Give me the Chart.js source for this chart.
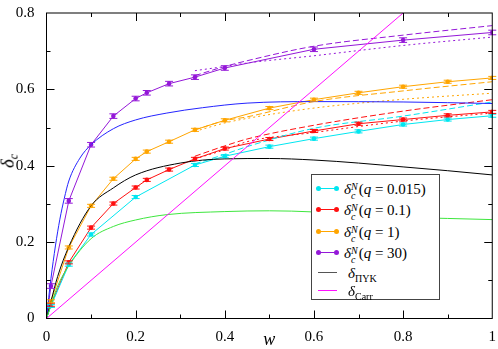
<!DOCTYPE html>
<html lang="en">

<head>
    <meta charset="UTF-8">
    <title>delta_c vs w</title>
    <style>
        body { margin: 0; background: #fff; }
        #wrap { position: relative; width: 498px; height: 349px; }
        #ytitle { position: absolute; left: 9px; top: 161px; transform: translate(-50%, -50%) rotate(-90deg);
            font-family: 'Liberation Serif', serif; font-size: 19px; font-style: italic; white-space: nowrap; }
        #ytitle sub { font-size: 12px; vertical-align: -4px; }
        #legend { position: absolute; left: 311px; top: 174px; width: 129px; height: 126px; box-sizing: border-box;
            border: 1px solid #444; background: #fff; font-family: 'Liberation Serif', serif; font-size: 15px; }
        .row { position: absolute; left: 0; height: 20px; width: 100%; }
        .sample { position: absolute; left: 6px; top: 9px; width: 19px; height: 0; border-top: 1px solid; }
        .dot { position: absolute; top: -3px; width: 5px; height: 5px; border-radius: 50%; }
        .txt { position: absolute; left: 32px; top: 0; white-space: nowrap; line-height: 20px; }
        .ss { display: inline-block; vertical-align: -5px; line-height: 9px; font-size: 10px; font-style: italic; margin-right: 1px; }
        .ss span { display: block; }
        .small { font-size: 10px; vertical-align: -4px; }
    </style>
</head>

<body>
    <div id="wrap">
        <canvas id="myChart" width="498" height="349"></canvas>
        <div id="ytitle">δ<sub>c</sub></div>
        <div id="legend"></div>
    </div>

    <script src="https://cdn.jsdelivr.net/npm/chart.js"></script>
    <script>
        // simulation points, q = 0.015
        let w_cyan = [0, 0.01, 0.05, 0.1, 0.2, 0.333, 0.4, 0.5, 0.6, 0.7, 0.8, 0.9, 1];
        let d_cyan = [0, 0.033, 0.141, 0.220, 0.318, 0.402, 0.425, 0.450, 0.471, 0.490, 0.508, 0.521, 0.531];
        // q = 0.1
        let w_red = [0, 0.01, 0.05, 0.1, 0.15, 0.2, 0.225, 0.275, 0.333, 0.4, 0.5, 0.6, 0.7, 0.8, 0.9, 1];
        let d_red = [0, 0.036, 0.147, 0.238, 0.301, 0.343, 0.363, 0.390, 0.418, 0.445, 0.470, 0.491, 0.510, 0.521, 0.532, 0.541];
        // q = 1
        let w_orange = [0, 0.01, 0.05, 0.1, 0.15, 0.2, 0.225, 0.275, 0.333, 0.4, 0.5, 0.6, 0.7, 0.8, 0.9, 1];
        let d_orange = [0, 0.045, 0.186, 0.295, 0.366, 0.418, 0.437, 0.463, 0.494, 0.519, 0.551, 0.573, 0.591, 0.607, 0.620, 0.630];
        // q = 30
        let w_purple = [0, 0.01, 0.05, 0.1, 0.15, 0.2, 0.225, 0.275, 0.333, 0.4, 0.6, 0.8, 1];
        let d_purple = [0, 0.085, 0.308, 0.455, 0.530, 0.576, 0.591, 0.615, 0.632, 0.656, 0.705, 0.729, 0.749];

        // dashed / dotted fits
        let w_fit = [0.333, 0.4, 0.45, 0.6, 0.8, 1];
        let purpleDash = [0.636, 0.660, 0.675, 0.713, 0.742, 0.767];
        let purpleDot = [0.649, 0.660, 0.669, 0.688, 0.715, 0.737];
        let orangeDash = [0.494, 0.518, 0.528, 0.568, 0.596, 0.620];
        let orangeDot = [0.490, 0.512, 0.524, 0.551, 0.574, 0.590];
        let redDash = [0.425, 0.452, 0.470, 0.506, 0.543, 0.573];
        let redDot = [0.418, 0.442, 0.463, 0.487, 0.517, 0.538];
        let cyanDash = [0.405, 0.430, 0.450, 0.498, 0.530, 0.567];

        // analytic curves
        let w_blue = [0, 0.005, 0.01, 0.02, 0.03, 0.04, 0.05, 0.075, 0.1, 0.15, 0.2, 0.27, 0.35, 0.45, 0.6, 0.8, 1];
        let d_blue = [0, 0.055, 0.105, 0.190, 0.260, 0.315, 0.360, 0.420, 0.455, 0.497, 0.520, 0.538, 0.552, 0.564, 0.568, 0.567, 0.563];
        let w_black = [0, 0.01, 0.025, 0.05, 0.1, 0.15, 0.2, 0.3, 0.4, 0.5, 0.6, 0.7, 0.8, 0.9, 1];
        let d_black = [0, 0.045, 0.110, 0.188, 0.295, 0.342, 0.376, 0.407, 0.418, 0.419, 0.415, 0.407, 0.397, 0.387, 0.376];
        let w_green = [0, 0.01, 0.025, 0.05, 0.1, 0.15, 0.2, 0.27, 0.4, 0.5, 0.6, 0.75, 0.9, 1];
        let d_green = [0, 0.035, 0.085, 0.138, 0.209, 0.241, 0.258, 0.272, 0.280, 0.282, 0.279, 0.267, 0.262, 0.259];
        let w_magenta = [0, 0.8];
        let d_magenta = [0, 0.8];

        const C_CYAN = '#00e6f0', C_RED = '#ff1010', C_ORANGE = '#ffa500', C_PURPLE = '#9418d8';
        const C_BLUE = '#2424ff', C_BLACK = '#000000', C_GREEN = '#3ee63e', C_MAGENTA = '#ff10ff';

        function pts(ws, ds) {
            let out = [];
            for (let i = 0; i < ws.length; i++) out.push({ x: ws[i], y: ds[i] });
            return out;
        }

        function simSet(ws, ds, color, err) {
            return {
                data: pts(ws, ds), borderColor: color, backgroundColor: color, borderWidth: 1,
                pointRadius: (c) => (c.raw && c.raw.x === 0 ? 0 : 2.3), pointBorderWidth: 0,
                err: err, tension: 0
            };
        }
        function fitSet(ws, ds, color, dash) {
            return { data: pts(ws, ds), borderColor: color, borderWidth: 1, pointRadius: 0,
                borderDash: dash, cubicInterpolationMode: 'monotone' };
        }
        function curveSet(ws, ds, color) {
            return { data: pts(ws, ds), borderColor: color, borderWidth: 1, pointRadius: 0,
                cubicInterpolationMode: 'monotone' };
        }

        // error bars with caps
        const errorBars = {
            id: 'errorBars',
            afterDatasetsDraw(chart) {
                const ctx = chart.ctx, xs = chart.scales.x, ys = chart.scales.y;
                chart.data.datasets.forEach((ds) => {
                    if (!ds.err) return;
                    ctx.save();
                    ctx.strokeStyle = ds.borderColor;
                    ctx.lineWidth = 1;
                    ds.data.forEach((p) => {
                        if (p.x === 0) return;
                        const px = xs.getPixelForValue(p.x);
                        const y1 = ys.getPixelForValue(p.y + ds.err);
                        const y2 = ys.getPixelForValue(p.y - ds.err);
                        ctx.beginPath();
                        ctx.moveTo(px, y1); ctx.lineTo(px, y2);
                        ctx.moveTo(px - 4, y1); ctx.lineTo(px + 4, y1);
                        ctx.moveTo(px - 4, y2); ctx.lineTo(px + 4, y2);
                        ctx.stroke();
                    });
                    ctx.restore();
                });
            }
        };

        // frame plus inward ticks on all four sides
        const frame = {
            id: 'frame',
            afterDraw(chart) {
                const ctx = chart.ctx, a = chart.chartArea, xs = chart.scales.x, ys = chart.scales.y;
                ctx.save();
                ctx.strokeStyle = '#000';
                ctx.lineWidth = 1;
                ctx.strokeRect(a.left, a.top, a.right - a.left, a.bottom - a.top);
                ctx.beginPath();
                for (let i = 1; i < 10; i++) {
                    const len = i % 2 === 0 ? 8 : 4;
                    const px = Math.round(xs.getPixelForValue(i / 10)) + 0.5;
                    ctx.moveTo(px, a.bottom); ctx.lineTo(px, a.bottom - len);
                    ctx.moveTo(px, a.top); ctx.lineTo(px, a.top + len);
                }
                for (let i = 1; i < 8; i++) {
                    const len = i % 2 === 0 ? 8 : 4;
                    const py = Math.round(ys.getPixelForValue(i / 10)) + 0.5;
                    ctx.moveTo(a.left, py); ctx.lineTo(a.left + len, py);
                    ctx.moveTo(a.right, py); ctx.lineTo(a.right - len, py);
                }
                ctx.stroke();
                ctx.restore();
            }
        };

        function tickLabel(v) {
            let k = Math.round(v * 10);
            if (k % 2 !== 0) return '';
            if (k === 0) return '0';
            if (k === 10) return '1';
            return (k / 10).toFixed(1);
        }

        const ctx = document.getElementById('myChart');
        new Chart(ctx, {
            type: 'scatter',
            data: {
                datasets: [
                    curveSet(w_magenta, d_magenta, C_MAGENTA),
                    curveSet(w_green, d_green, C_GREEN),
                    curveSet(w_black, d_black, C_BLACK),
                    curveSet(w_blue, d_blue, C_BLUE),
                    fitSet(w_fit, cyanDash, C_CYAN, [6, 3]),
                    fitSet(w_fit, redDash, C_RED, [6, 3]),
                    fitSet(w_fit, redDot, C_RED, [2, 3]),
                    fitSet(w_fit, orangeDash, C_ORANGE, [6, 3]),
                    fitSet(w_fit, orangeDot, C_ORANGE, [2, 3]),
                    fitSet(w_fit, purpleDash, C_PURPLE, [6, 3]),
                    fitSet(w_fit, purpleDot, C_PURPLE, [2, 3]),
                    simSet(w_cyan, d_cyan, C_CYAN, 0.004),
                    simSet(w_red, d_red, C_RED, 0.004),
                    simSet(w_orange, d_orange, C_ORANGE, 0.004),
                    simSet(w_purple, d_purple, C_PURPLE, 0.006)
                ].map((d) => Object.assign({ showLine: true }, d))
            },
            options: {
                responsive: false,
                animation: false,
                layout: { padding: { top: 6, right: 4, left: 0, bottom: 0 } },
                plugins: { legend: { display: false }, tooltip: { enabled: false } },
                scales: {
                    x: {
                        type: 'linear', min: 0, max: 1,
                        grid: { display: false }, border: { display: false },
                        ticks: { stepSize: 0.1, autoSkip: false, maxRotation: 0, padding: 2, color: '#000',
                            font: { family: 'Liberation Serif', size: 15 }, callback: tickLabel },
                        title: { display: true, text: 'w', color: '#000', padding: { top: 0, bottom: 0 },
                            font: { family: 'Liberation Serif', size: 18, style: 'italic', lineHeight: 1 } },
                        afterFit: (s) => { s.height = 30.5; }
                    },
                    y: {
                        type: 'linear', min: 0, max: 0.8,
                        grid: { display: false }, border: { display: false },
                        ticks: { stepSize: 0.1, autoSkip: false, padding: 4, color: '#000',
                            font: { family: 'Liberation Serif', size: 15 }, callback: tickLabel },
                        afterFit: (s) => { s.width = 46.5; }
                    }
                }
            },
            plugins: [errorBars, frame]
        });

        // legend with sub/superscripts
        let legendRows = [
            { color: C_CYAN, dots: true, q: '0.015' },
            { color: C_RED, dots: true, q: '0.1' },
            { color: C_ORANGE, dots: true, q: '1' },
            { color: C_PURPLE, dots: true, q: '30' },
            { color: '#555', dots: false, sub: 'ΠYK' },
            { color: C_MAGENTA, dots: false, sub: 'Carr' }
        ];
        let rowTops = [4, 25, 47, 68, 88, 106];
        let html = '';
        legendRows.forEach((r, i) => {
            let sample = '<div class="sample" style="border-color:' + r.color + '">';
            if (r.dots) {
                sample += '<div class="dot" style="left:-2px;background:' + r.color + '"></div>';
                sample += '<div class="dot" style="left:16px;background:' + r.color + '"></div>';
            }
            sample += '</div>';
            let txt;
            if (r.dots) {
                txt = '<i>δ</i><span class="ss"><span>N</span><span>c</span></span>(<i>q</i> = ' + r.q + ')';
            } else {
                txt = '<span style="margin-left:4px"><i>δ</i><span class="small">' + r.sub + '</span></span>';
            }
            html += '<div class="row" style="top:' + rowTops[i] + 'px">' + sample + '<div class="txt">' + txt + '</div></div>';
        });
        document.getElementById('legend').innerHTML = html;
    </script>

</body>

</html>
